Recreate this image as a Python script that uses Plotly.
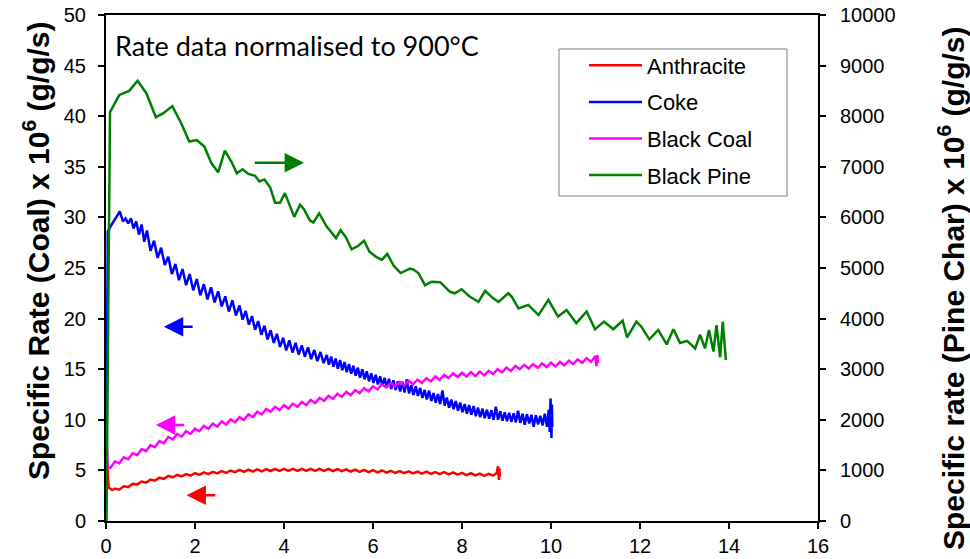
import plotly.graph_objects as go

# ---------------- data ----------------
anth_x = [0.03, 0.06, 0.14, 0.2, 0.3, 0.4, 0.5, 0.6, 0.7, 0.8, 0.9, 1.0, 1.1, 1.2, 1.3, 1.4, 1.5, 1.6, 1.7, 1.8, 1.9,
          2.0, 2.1, 2.2, 2.3, 2.4, 2.5, 2.6, 2.7, 2.8, 2.9, 3.0, 3.1, 3.2, 3.3, 3.4, 3.5, 3.6, 3.7, 3.8, 3.9,
          4.0, 4.1, 4.2, 4.3, 4.4, 4.5, 4.6, 4.7, 4.8, 4.9, 5.0, 5.1, 5.2, 5.3, 5.4, 5.5, 5.6, 5.7, 5.8, 5.9,
          6.0, 6.1, 6.2, 6.3, 6.4, 6.5, 6.6, 6.7, 6.8, 6.9, 7.0, 7.1, 7.2, 7.3, 7.4, 7.5, 7.6, 7.7, 7.8, 7.9,
          8.0, 8.1, 8.2, 8.3, 8.4, 8.5, 8.6, 8.7, 8.78, 8.81, 8.83, 8.84, 8.85]
anth_y = [5.5, 3.3, 3.06, 3.21, 3.1, 3.43, 3.35, 3.68, 3.6, 3.9, 3.8, 4.1, 3.99, 4.28, 4.17, 4.46, 4.32, 4.56, 4.4, 4.64, 4.48,
          4.72, 4.56, 4.8, 4.63, 4.86, 4.7, 4.93, 4.76, 4.99, 4.82, 5.05, 4.86, 5.07, 4.89, 5.1, 4.91, 5.13, 4.94, 5.14, 4.95,
          5.15, 4.95, 5.15, 4.95, 5.15, 4.95, 5.15, 4.95, 5.15, 4.95, 5.15, 4.94, 5.13, 4.92, 5.1, 4.89, 5.08, 4.86, 5.05, 4.83,
          5.02, 4.8, 4.99, 4.77, 4.96, 4.75, 4.94, 4.73, 4.91, 4.7, 4.89, 4.68, 4.87, 4.66, 4.84, 4.63, 4.82, 4.61, 4.8, 4.58,
          4.76, 4.54, 4.72, 4.5, 4.68, 4.46, 4.66, 4.48, 4.75, 5.4, 4.05, 5.2, 4.4]

coke_x = [0.0, 0.02, 0.04, 0.1, 0.2, 0.31, 0.38, 0.44, 0.5, 0.56, 0.62, 0.68, 0.74, 0.8, 0.86, 0.92,
          1.00, 1.08, 1.16, 1.24, 1.32, 1.40, 1.48, 1.56, 1.64, 1.72, 1.80, 1.88, 1.96, 2.04, 2.12, 2.20,
          2.28, 2.36, 2.44, 2.52, 2.60, 2.68, 2.76, 2.84, 2.92, 3.00,
          3.07, 3.14, 3.21, 3.28, 3.35, 3.42, 3.49, 3.56, 3.63, 3.70, 3.77, 3.84, 3.91, 3.98, 4.05, 4.12,
          4.19, 4.26, 4.33, 4.40, 4.47, 4.54, 4.61, 4.68, 4.75, 4.82, 4.89, 4.96,
          5.01, 5.06, 5.11, 5.16, 5.21, 5.26, 5.31, 5.36, 5.41, 5.46, 5.51, 5.56, 5.61, 5.66, 5.71, 5.76,
          5.81, 5.86, 5.91, 5.96, 6.01, 6.06, 6.11, 6.16, 6.21, 6.26, 6.31, 6.36, 6.41, 6.46, 6.51, 6.56,
          6.61, 6.66, 6.71, 6.76, 6.81, 6.86, 6.91, 6.96, 7.01, 7.06, 7.11, 7.16, 7.21, 7.26, 7.31, 7.36,
          7.41, 7.46, 7.51, 7.56, 7.61, 7.66, 7.71, 7.76, 7.81, 7.86, 7.91, 7.96, 8.01, 8.06, 8.11, 8.16,
          8.21, 8.26, 8.31, 8.36, 8.41, 8.46, 8.51, 8.56, 8.61, 8.66, 8.71, 8.76, 8.81, 8.86, 8.91, 8.96,
          9.01, 9.06, 9.11, 9.16, 9.21, 9.26, 9.31, 9.36, 9.41, 9.46, 9.51, 9.56, 9.61, 9.66, 9.71, 9.76,
          9.81, 9.86, 9.91, 9.95, 9.97, 9.99, 10.01, 10.02, 10.03]
coke_y = [0.0, 20.0, 28.6, 29.1, 29.8, 30.6, 29.6, 29.9, 29.4, 29.9, 28.9, 29.6, 28.3, 29.3, 27.6, 28.7,
          26.7, 27.7, 26.0, 27.0, 25.3, 26.1, 24.4, 25.4, 23.8, 24.9, 23.3, 24.4, 22.8, 23.9, 22.3, 23.4,
          21.9, 23.1, 21.6, 22.7, 21.2, 22.2, 20.7, 21.8, 20.3, 21.3,
          19.9, 20.75, 19.4, 20.25, 18.9, 19.75, 18.4, 19.3, 17.95, 18.85, 17.6, 18.5, 17.2, 18.1, 16.85, 17.85,
          16.65, 17.6, 16.45, 17.35, 16.25, 17.15, 16.0, 16.9, 15.8, 16.7, 15.6, 16.4,
          15.45, 16.25, 15.25, 16.05, 15.05, 15.9, 14.9, 15.7, 14.7, 15.5, 14.55, 15.35, 14.35, 15.15, 14.15, 15.0,
          14.0, 14.8, 13.8, 14.6, 13.65, 14.45, 13.5, 14.3, 13.35, 14.15, 13.2, 14.05, 13.05, 13.9, 12.95, 13.8,
          12.8, 13.75, 12.7, 14.0, 12.6, 13.4, 12.45, 13.3, 12.35, 13.15, 12.15, 12.95, 12.0, 12.9, 11.85, 12.65,
          11.7, 12.55, 11.55, 12.9, 11.4, 12.2, 11.2, 12.0, 11.05, 11.85, 10.9, 11.7, 10.75, 11.55, 10.6, 11.45,
          10.5, 11.35, 10.35, 11.2, 10.25, 11.1, 10.15, 11.0, 10.1, 10.95, 10.0, 11.3, 10.0, 10.85, 9.9, 10.75,
          9.85, 10.7, 9.8, 10.65, 9.75, 10.9, 9.7, 10.6, 9.5, 10.55, 9.65, 10.5, 9.3, 10.45, 9.55, 10.4,
          9.45, 10.6, 9.3, 11.0, 8.8, 12.1, 8.2, 11.5, 9.3]

coal_x = [0.02, 0.04, 0.1, 0.2, 0.3, 0.4, 0.5, 0.6, 0.7, 0.8, 0.9, 1.0, 1.1, 1.2, 1.3, 1.4, 1.5, 1.6, 1.7, 1.8, 1.9,
          2.0, 2.1, 2.2, 2.3, 2.4, 2.5, 2.6, 2.7, 2.8, 2.9, 3.0, 3.1, 3.2, 3.3, 3.4, 3.5, 3.6, 3.7, 3.8, 3.9,
          4.0, 4.1, 4.2, 4.3, 4.4, 4.5, 4.6, 4.7, 4.8, 4.9, 5.0, 5.1, 5.2, 5.3, 5.4, 5.5, 5.6, 5.7, 5.8, 5.9,
          6.0, 6.1, 6.2, 6.3, 6.4, 6.5, 6.6, 6.7, 6.8, 6.9, 7.0, 7.1, 7.2, 7.3, 7.4, 7.5, 7.6, 7.7, 7.8, 7.9,
          8.0, 8.1, 8.2, 8.3, 8.4, 8.5, 8.6, 8.7, 8.8, 8.9, 9.0, 9.1, 9.2, 9.3, 9.4, 9.5, 9.6, 9.7, 9.8, 9.9,
          10.0, 10.1, 10.2, 10.3, 10.4, 10.5, 10.6, 10.7, 10.8, 10.9, 11.0, 11.02, 11.04, 11.06]
coal_y = [7.5, 5.3, 5.25, 5.87, 5.7, 6.3, 6.1, 6.7, 6.5, 7.1, 6.9, 7.5, 7.3, 7.9, 7.7, 8.3, 8.07, 8.6, 8.33, 8.87, 8.6,
          9.13, 8.87, 9.4, 9.11, 9.61, 9.32, 9.83, 9.53, 10.04, 9.75, 10.27, 10.0, 10.53, 10.27, 10.8, 10.53, 11.07, 10.8, 11.28, 10.96,
          11.44, 11.12, 11.6, 11.28, 11.76, 11.45, 11.96, 11.66, 12.17, 11.87, 12.37, 12.08, 12.57, 12.26, 12.75, 12.44, 12.94, 12.63, 13.12, 12.82,
          13.31, 13.0, 13.5, 13.2, 13.65, 13.3, 13.75, 13.41, 13.86, 13.51, 13.97, 13.63, 14.11, 13.79, 14.28, 13.96, 14.44, 14.12, 14.6, 14.23,
          14.65, 14.28, 14.71, 14.33, 14.76, 14.39, 14.84, 14.52, 15.0, 14.68, 15.16, 14.84, 15.32, 15.0, 15.43, 15.07, 15.5, 15.14, 15.57, 15.21,
          15.64, 15.28, 15.72, 15.38, 15.84, 15.5, 15.96, 15.62, 16.08, 15.74, 16.3, 15.3, 16.4, 15.6]

pine_x = [0.01, 0.09, 0.3, 0.52, 0.71, 0.91, 1.12, 1.29, 1.49, 1.69, 1.87, 2.04, 2.21, 2.37, 2.52, 2.67, 2.82, 2.94,
          3.07, 3.20, 3.35, 3.45, 3.56, 3.69, 3.80, 3.91, 4.02, 4.23, 4.36, 4.45, 4.58, 4.66, 4.79, 4.96, 5.17,
          5.27, 5.39, 5.52, 5.67, 5.80, 5.92, 6.07, 6.20, 6.32, 6.47, 6.62, 6.83, 6.91, 7.02, 7.10, 7.17, 7.32,
          7.51, 7.73, 7.84, 7.99, 8.18, 8.37, 8.52, 8.70, 8.82, 9.04, 9.12, 9.27, 9.49, 9.72, 9.94, 10.16, 10.35,
          10.57, 10.80, 10.99, 11.19, 11.40, 11.61, 11.71, 11.92, 12.03, 12.21, 12.41, 12.60, 12.75, 12.90, 13.06,
          13.24, 13.35, 13.46, 13.55, 13.65, 13.72, 13.80, 13.86, 13.93]
pine_y = [0, 8080, 8420, 8500, 8700, 8450, 7980, 8060, 8200, 7860, 7500, 7530, 7400, 7070, 6890, 7320, 7100, 6870,
          6950, 6860, 6820, 6710, 6750, 6590, 6290, 6290, 6480, 6010, 6250, 6160, 5940, 5900, 6080, 5820, 5590,
          5750, 5610, 5370, 5440, 5540, 5320, 5220, 5160, 5280, 5040, 4900, 4990, 4970, 4900, 4760, 4660, 4730,
          4720, 4530, 4500, 4580, 4430, 4330, 4550, 4400, 4330, 4500, 4430, 4200, 4270, 4070, 4370, 4040, 4170,
          3910, 4140, 3790, 3940, 3790, 3960, 3630, 3940, 3840, 3590, 3775, 3490, 3790, 3520, 3560,
          3410, 3680, 3410, 3775, 3350, 3870, 3235, 3940, 3180]

x_ticks = [0, 2, 4, 6, 8, 10, 12, 14, 16]
left_ticks = [0, 5, 10, 15, 20, 25, 30, 35, 40, 45, 50]
right_ticks = [0, 1000, 2000, 3000, 4000, 5000, 6000, 7000, 8000, 9000, 10000]

# ---------------- figure ----------------
FONT = "Liberation Sans, Arial, sans-serif"
TICKFONT = dict(family=FONT, size=20, color="black")
W = 2.5

fig = go.Figure()
fig.add_trace(go.Scatter(x=anth_x, y=anth_y, mode="lines", name="Anthracite", legendgroup="a",
                         line=dict(color="#FF0000", width=W)))
fig.add_trace(go.Scatter(x=coke_x, y=coke_y, mode="lines", name="Coke", legendgroup="b",
                         line=dict(color="#0000FF", width=W)))
fig.add_trace(go.Scatter(x=coal_x, y=coal_y, mode="lines", name="Black Coal", legendgroup="c",
                         line=dict(color="#FF00FF", width=W)))
fig.add_trace(go.Scatter(x=pine_x, y=pine_y, mode="lines", name="Black Pine", legendgroup="d",
                         line=dict(color="#008000", width=W), yaxis="y2"))

L, R, T, B = 106, 152, 15, 38
PW, PH = 970 - L - R, 559 - T - B


def px(xp):
    return (xp - L) / PW


def py(yp):
    return (559 - B - yp) / PH


fig.update_layout(
    width=970, height=559,
    margin=dict(l=L, r=R, t=T, b=B, autoexpand=False),
    paper_bgcolor="white", plot_bgcolor="white",
    showlegend=True,
    legend=dict(x=px(584), y=py(44.5), xanchor="left", yanchor="top",
                bgcolor="rgba(0,0,0,0)", borderwidth=0,
                font=dict(family=FONT, size=22, color="black"),
                tracegroupgap=5, itemwidth=53),
    xaxis=dict(range=[0, 16], tickvals=x_ticks, ticktext=[str(v) for v in x_ticks], automargin=False,
               showgrid=False, zeroline=False, showline=True, mirror=True, linecolor="black", linewidth=2,
               ticks="outside", ticklen=6, tickcolor="black", tickwidth=1.5, tickfont=TICKFONT),
    yaxis=dict(range=[0, 50], tickvals=left_ticks, ticktext=[str(v) for v in left_ticks], automargin=False,
               showgrid=False, zeroline=False, showline=True, mirror=True, linecolor="black", linewidth=2,
               ticks="outside", ticklen=6, tickcolor="black", tickwidth=1.5, tickfont=TICKFONT,
               ticklabelstandoff=8),
    yaxis2=dict(range=[0, 10000], tickvals=right_ticks, ticktext=[str(v) for v in right_ticks], automargin=False,
                overlaying="y", side="right", showgrid=False, zeroline=False, showline=True,
                linecolor="black", linewidth=2, ticks="outside", ticklen=6, tickcolor="black", tickwidth=1.5,
                tickfont=TICKFONT, ticklabelstandoff=10),
)

# legend frame
fig.add_shape(type="rect", xref="paper", yref="paper", x0=px(559), x1=px(787), y0=py(196), y1=py(49),
              line=dict(color="#808080", width=1), fillcolor="rgba(0,0,0,0)", layer="above")

# axis titles
fig.add_annotation(xref="paper", yref="paper", x=px(36), y=py(251), showarrow=False,
                   text="<b>Specific Rate (Coal) x 10<sup>6</sup> (g/g/s)</b>", textangle=-90,
                   font=dict(family=FONT, size=30, color="black"),
                   xanchor="center", yanchor="middle")
fig.add_annotation(xref="paper", yref="paper", x=px(951), y=py(288), showarrow=False,
                   text="<b>Specific rate (Pine Char) x 10<sup>6</sup> (g/g/s)</b>", textangle=-90,
                   font=dict(family=FONT, size=30, color="black"),
                   xanchor="center", yanchor="middle")

# note text
fig.add_annotation(xref="paper", yref="paper", x=px(113), y=py(46), showarrow=False,
                   text="Rate data normalised to 900°C", xanchor="left", yanchor="middle",
                   font=dict(family="Lato, sans-serif", size=27, color="black"))

# direction arrows
arrows = [
    dict(x=4.45, ax=3.31, y=35.4, color="#008000"),
    dict(x=1.30, ax=1.98, y=19.2, color="#0000FF"),
    dict(x=1.12, ax=1.79, y=9.49, color="#FF00FF"),
    dict(x=1.81, ax=2.49, y=2.54, color="#FF0000"),
]
for a in arrows:
    fig.add_annotation(x=a["x"], y=a["y"], ax=a["ax"], ay=a["y"], xref="x", yref="y",
                       axref="x", ayref="y", text="", showarrow=True, arrowhead=2,
                       arrowsize=1.55, arrowwidth=2.5, arrowcolor=a["color"])

fig.write_html("out.html")
